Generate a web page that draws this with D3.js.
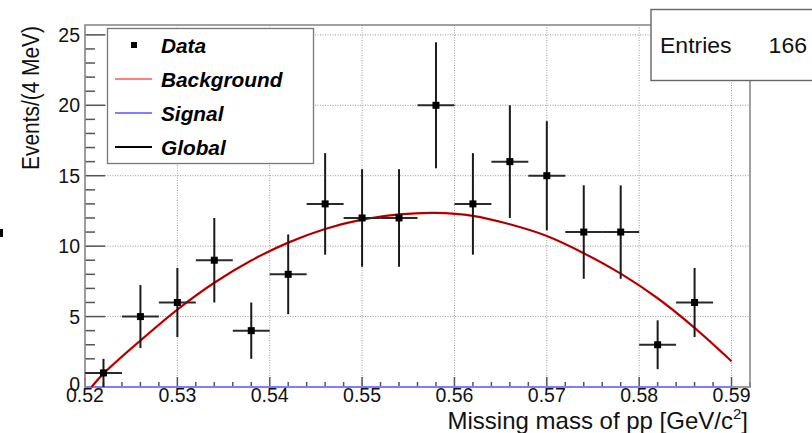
<!DOCTYPE html>
<html>
<head>
<meta charset="utf-8">
<script src="https://cdn.jsdelivr.net/npm/d3@7"></script>
<style>
  html, body { margin: 0; padding: 0; background: #fff; }
  svg { display: block; }
  text { font-family: "Liberation Sans", Arial, Helvetica, sans-serif; }
</style>
</head>
<body>
<svg id="chart" width="812" height="433"></svg>
<script>
// Missing-mass spectrum of pp: 4 MeV bins, counts per bin
const binCenters = [0.522, 0.526, 0.530, 0.534, 0.538, 0.542, 0.546, 0.550, 0.554,
                    0.558, 0.562, 0.566, 0.570, 0.574, 0.578, 0.582, 0.586, 0.590];
const counts = [1, 5, 6, 9, 4, 8, 13, 12, 12, 20, 13, 16, 15, 11, 11, 3, 6, 0];
const binWidth = 0.004;

// Fitted background curve, sampled along the mass axis
const bgX = [0.5207, 0.522, 0.526, 0.530, 0.534, 0.538, 0.542, 0.546, 0.550, 0.554,
             0.558, 0.562, 0.566, 0.570, 0.574, 0.578, 0.582, 0.586, 0.590];
const bgY = [0, 0.95, 3.3, 5.5, 7.4, 8.98, 10.25, 11.22, 11.88, 12.25,
             12.36, 12.15, 11.55, 10.72, 9.5, 8.05, 6.3, 4.2, 1.83];
// Signal component of the fit (vanishes over the whole range)
const sigX = [0.52, 0.59];
const sigY = [0, 0];

const xTickLabels = ["0.52", "0.53", "0.54", "0.55", "0.56", "0.57", "0.58", "0.59"];
const yTickLabels = ["0", "5", "10", "15", "20", "25"];
const legendLabels = ["Data", "Background", "Signal", "Global"];
const entries = 166;

const svg = d3.select("#chart");
const L = 85, R = 750, T = 25, B = 387;
const x = d3.scaleLinear().domain([0.52, 0.592]).range([L, R]);
const y = d3.scaleLinear().domain([0, 25.7]).range([B, T]);

// widen a text node horizontally by a factor
function stretch(sel, k) {
  sel.each(function () {
    const w = this.getComputedTextLength();
    this.setAttribute("textLength", w * k);
    this.setAttribute("lengthAdjust", "spacingAndGlyphs");
  });
}

// grid
const grid = svg.append("g").attr("stroke", "#9a9a9a").attr("stroke-width", 1)
  .attr("stroke-dasharray", "1,1.5");
grid.selectAll("line.gx").data(xTickLabels.map(Number)).join("line")
  .attr("x1", d => x(d)).attr("x2", d => x(d)).attr("y1", T).attr("y2", B);
grid.selectAll("line.gy").data(yTickLabels.map(Number)).join("line")
  .attr("x1", L).attr("x2", R).attr("y1", d => y(d)).attr("y2", d => y(d));

// ticks
const tickG = svg.append("g").attr("stroke", "#555").attr("stroke-width", 1.5);
const xMinor = d3.range(0, 37).map(i => 0.52 + i * 0.002);
tickG.selectAll("line.xt").data(xMinor).join("line")
  .attr("x1", d => x(d)).attr("x2", d => x(d))
  .attr("y1", B).attr("y2", (d, i) => B - (i % 5 === 0 ? 10 : 5));
const yMinor = d3.range(0, 26);
tickG.selectAll("line.yt").data(yMinor).join("line")
  .attr("y1", d => y(d)).attr("y2", d => y(d))
  .attr("x1", L).attr("x2", (d, i) => L + (i % 5 === 0 ? 20 : 10));

// frame
svg.append("rect").attr("x", L).attr("y", T).attr("width", R - L).attr("height", B - T)
  .attr("fill", "none").attr("stroke", "#8a8a8a").attr("stroke-width", 1.6);

// tick labels
svg.append("g").selectAll("text").data(xTickLabels).join("text")
  .attr("x", d => x(+d)).attr("y", 401.5).attr("text-anchor", "middle")
  .attr("font-size", 19.5).attr("fill", "#111").text(d => d);
svg.append("g").selectAll("text").data(yTickLabels).join("text")
  .attr("x", 80).attr("y", (d, i) => y(+d) + 7 - (i === 0 ? 3 : 0)).attr("text-anchor", "end")
  .attr("font-size", 19.5).attr("fill", "#111").text(d => d);

// axis titles
const xt = svg.append("text").attr("x", 748).attr("y", 429).attr("text-anchor", "end")
  .attr("font-size", 24).attr("fill", "#111");
xt.append("tspan").text("Missing mass of pp [GeV/c");
xt.append("tspan").attr("font-size", 15).attr("dy", -10).text("2");
xt.append("tspan").attr("dy", 10).text("]");

const yt = svg.append("text").attr("transform", "translate(39,26) rotate(-90)")
  .attr("text-anchor", "end").attr("font-size", 23.5).attr("fill", "#111")
  .text("Events/(4 MeV)");
yt.attr("textLength", 144).attr("lengthAdjust", "spacingAndGlyphs");

// fit curves
const line = d3.line().x(d => x(d[0])).y(d => y(d[1])).curve(d3.curveCatmullRom);
const bgPts = bgX.map((v, i) => [v, bgY[i]]);
const sigPts = sigX.map((v, i) => [v, sigY[i]]);
svg.append("path").datum(sigPts).attr("d", line).attr("fill", "none")
  .attr("stroke", "#7d7dff").attr("stroke-width", 2);
svg.append("path").datum(bgPts).attr("d", line).attr("fill", "none")
  .attr("stroke", "#e00000").attr("stroke-width", 2.2);
// global = background + signal
const globalPts = bgPts.map(p => [p[0], p[1] + 0]);
svg.append("path").datum(globalPts).attr("d", line).attr("fill", "none")
  .attr("stroke", "#000").attr("stroke-opacity", 0.4).attr("stroke-width", 1);

// data points with error bars
const data = binCenters.map((c, i) => ({ c, n: counts[i] })).filter(d => d.n > 0);
const pts = svg.append("g");
pts.selectAll("line.ev").data(data).join("line")
  .attr("x1", d => x(d.c)).attr("x2", d => x(d.c))
  .attr("y1", d => y(d.n + Math.sqrt(d.n))).attr("y2", d => y(d.n - Math.sqrt(d.n)))
  .attr("stroke", "#1a1a1a").attr("stroke-width", 2);
pts.selectAll("line.eh").data(data).join("line")
  .attr("x1", d => x(d.c - binWidth / 2)).attr("x2", d => x(d.c + binWidth / 2))
  .attr("y1", d => y(d.n)).attr("y2", d => y(d.n))
  .attr("stroke", "#2a2a2a").attr("stroke-width", 2);
pts.selectAll("rect").data(data).join("rect")
  .attr("x", d => x(d.c) - 3.5).attr("y", d => y(d.n) - 3.5)
  .attr("width", 7).attr("height", 7).attr("fill", "#000");

// legend
const lg = svg.append("g");
lg.append("rect").attr("x", 107.5).attr("y", 28.5).attr("width", 206).attr("height", 135)
  .attr("fill", "#fff").attr("stroke", "#777").attr("stroke-width", 1.3);
const rowY = [45, 79, 113, 147];
lg.append("rect").attr("x", 131).attr("y", rowY[0] - 3).attr("width", 6).attr("height", 6).attr("fill", "#000");
const legColors = [null, "#ff0000", "#0000ff", "#000"];
const legWidths = [0, 1.2, 1.2, 2];
[1, 2, 3].forEach(i => {
  lg.append("line").attr("x1", 115).attr("x2", 152).attr("y1", rowY[i]).attr("y2", rowY[i])
    .attr("stroke", legColors[i]).attr("stroke-width", legWidths[i]);
});
const lt = lg.selectAll("text").data(legendLabels).join("text")
  .attr("x", 161).attr("y", (d, i) => rowY[i] + 7.5)
  .attr("font-size", 20).attr("font-weight", "bold").attr("font-style", "italic")
  .attr("fill", "#000").text(d => d);
stretch(lt, 1.04);

// statistics box
svg.append("rect").attr("x", 651).attr("y", 9.5).attr("width", 170).attr("height", 71)
  .attr("fill", "#fff").attr("stroke", "#666").attr("stroke-width", 1.4);
const st1 = svg.append("text").attr("x", 660).attr("y", 53).attr("font-size", 21.5)
  .attr("fill", "#111").text("Entries");
stretch(st1, 1.07);
const st2 = svg.append("text").attr("x", 807).attr("y", 53).attr("font-size", 21.5)
  .attr("text-anchor", "end").attr("fill", "#111").text(String(entries));
stretch(st2, 1.07);

// small mark on the left margin
svg.append("rect").attr("x", 0).attr("y", 229).attr("width", 3).attr("height", 8).attr("fill", "#000");
</script>
</body>
</html>
